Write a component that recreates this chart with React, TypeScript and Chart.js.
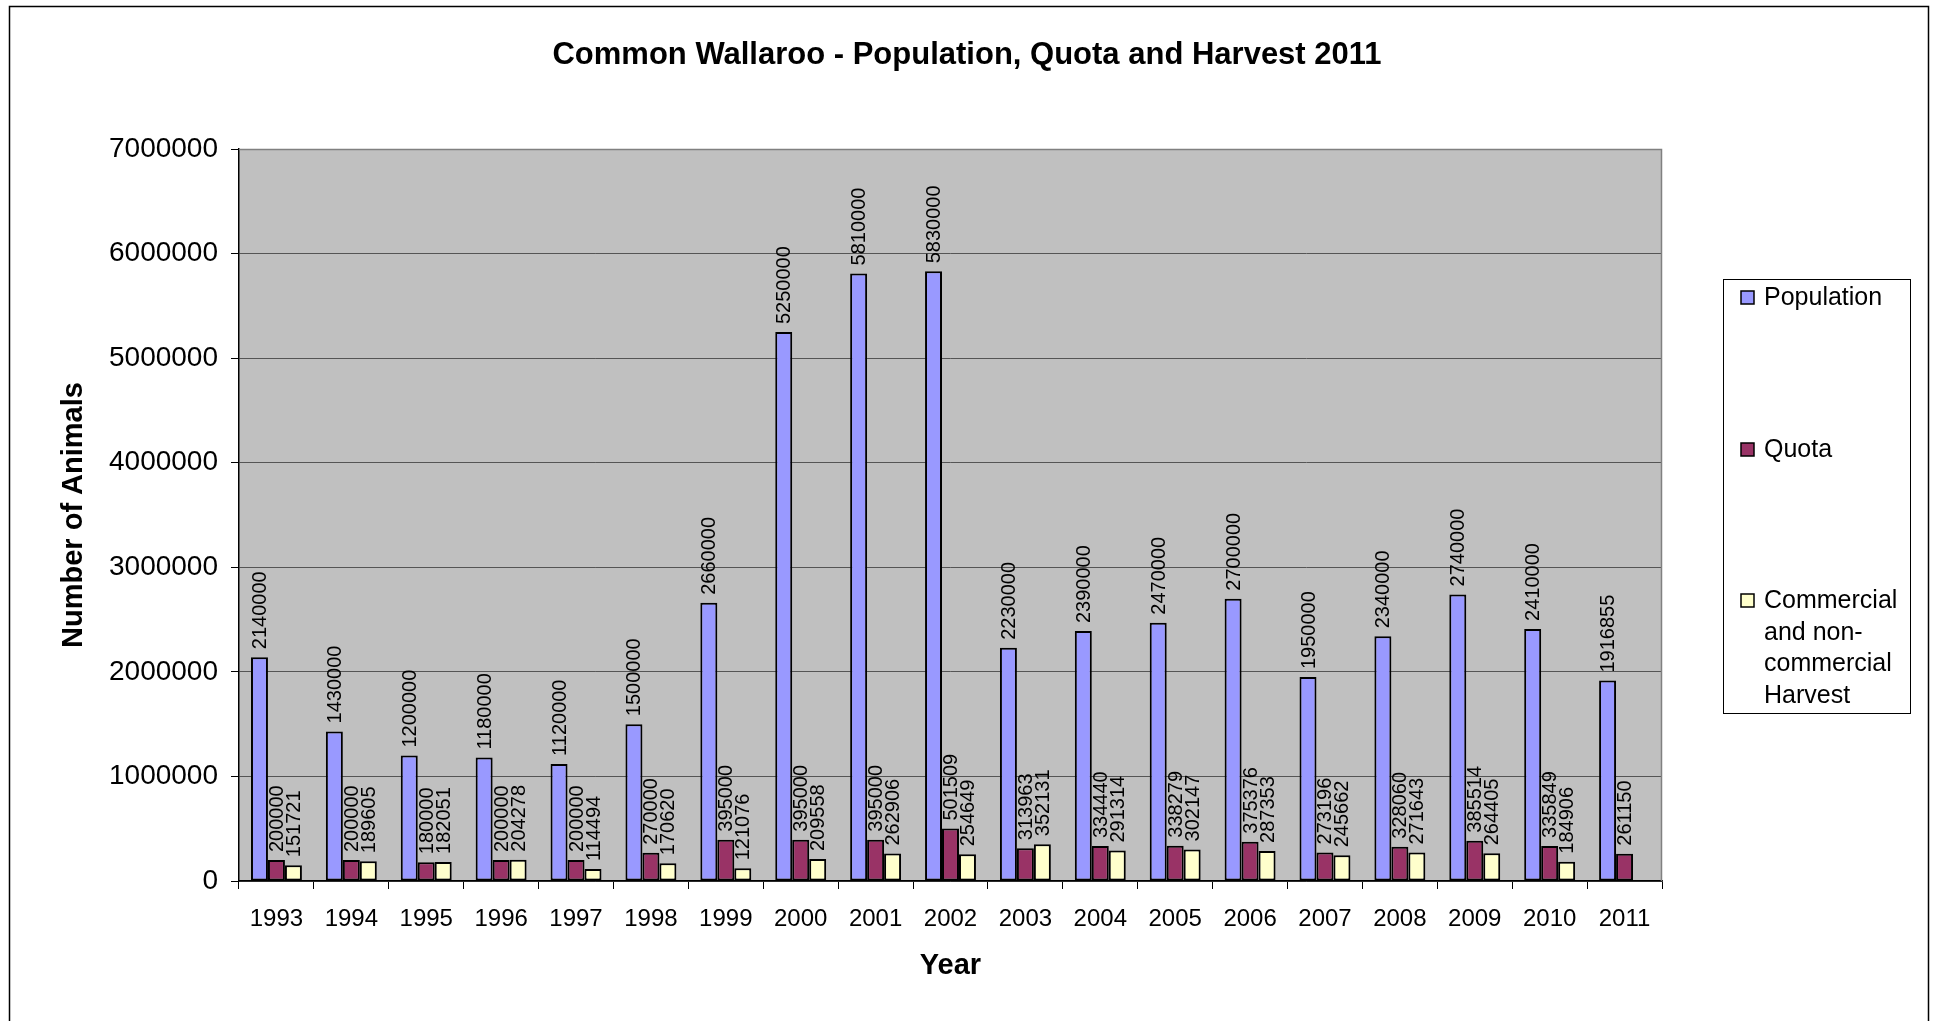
import React, { useEffect, useRef } from 'react';
import { Chart, registerables } from 'chart.js';

Chart.register(...registerables);

const YEARS = ['1993', '1994', '1995', '1996', '1997', '1998', '1999', '2000', '2001', '2002', '2003', '2004', '2005', '2006', '2007', '2008', '2009', '2010', '2011'];
const POPULATION = [2140000, 1430000, 1200000, 1180000, 1120000, 1500000, 2660000, 5250000, 5810000, 5830000, 2230000, 2390000, 2470000, 2700000, 1950000, 2340000, 2740000, 2410000, 1916855];
const QUOTA = [200000, 200000, 180000, 200000, 200000, 270000, 395000, 395000, 395000, 501509, 313963, 334440, 338279, 375376, 273196, 328060, 385514, 335849, 261150];
const HARVEST: (number | null)[] = [151721, 189605, 182051, 204278, 114494, 170620, 121076, 209558, 262906, 254649, 352131, 291314, 302147, 287353, 245662, 271643, 264405, 184906, null];
const SERIES_NAMES = ['Population', 'Quota', 'Commercial and non-commercial Harvest'];
const LEGEND_LINES = [['Population'], ['Quota'], ['Commercial', 'and non-', 'commercial', 'Harvest']];
const Y_MIN = 0;
const Y_MAX = 7000000;
const Y_STEP = 1000000;
const TITLE = 'Common Wallaroo - Population, Quota and Harvest 2011';
const X_TITLE = 'Year';
const Y_TITLE = 'Number of Animals';

const COLORS = ['#9999FF', '#993366', '#FFFFCC'];
const FONT = "'Liberation Sans', Arial, sans-serif";

const framePlugin = {
  id: 'framePlugin',
  beforeDraw(chart: any) {
    const { ctx, chartArea } = chart;
    ctx.save();
    ctx.fillStyle = '#ffffff';
    ctx.fillRect(0, 0, chart.width, chart.height);
    ctx.strokeStyle = '#000000';
    ctx.lineWidth = 1.5;
    ctx.strokeRect(9.5, 6.5, 1919, 1100);
    ctx.fillStyle = '#C0C0C0';
    ctx.fillRect(chartArea.left, chartArea.top, chartArea.right - chartArea.left, chartArea.bottom - chartArea.top);
    ctx.restore();
  },
  beforeDatasetsDraw(chart: any) {
    const { ctx, chartArea } = chart;
    ctx.save();
    ctx.strokeStyle = '#808080';
    ctx.lineWidth = 1.5;
    ctx.beginPath();
    ctx.moveTo(chartArea.left, chartArea.top + 0.5);
    ctx.lineTo(chartArea.right - 0.5, chartArea.top + 0.5);
    ctx.lineTo(chartArea.right - 0.5, chartArea.bottom);
    ctx.stroke();
    ctx.restore();
  },
};

const labelPlugin = {
  id: 'labelPlugin',
  afterDatasetsDraw(chart: any) {
    const { ctx } = chart;
    ctx.save();
    ctx.font = `20px ${FONT}`;
    ctx.fillStyle = '#000000';
    ctx.textAlign = 'left';
    ctx.textBaseline = 'middle';
    chart.data.datasets.forEach((ds: any, di: number) => {
      const meta = chart.getDatasetMeta(di);
      meta.data.forEach((bar: any, i: number) => {
        const v = ds.data[i];
        if (v === null || v === undefined) return;
        ctx.save();
        ctx.translate(bar.x + 1, bar.y - 8);
        ctx.rotate(-Math.PI / 2);
        ctx.fillText(String(v), 0, 0);
        ctx.restore();
      });
    });
    ctx.restore();
  },
};

const legendPlugin = {
  id: 'customLegend',
  afterDraw(chart: any) {
    const { ctx } = chart;
    const box = { left: 1723, top: 279, right: 1910, bottom: 713 };
    const firstLineY = [298, 450, 601];
    const lineGap = 31.7;
    ctx.save();
    ctx.strokeStyle = '#000000';
    ctx.lineWidth = 1;
    ctx.strokeRect(box.left + 0.5, box.top + 0.5, box.right - box.left, box.bottom - box.top);
    ctx.font = `25px ${FONT}`;
    ctx.fillStyle = '#000000';
    ctx.textAlign = 'left';
    ctx.textBaseline = 'middle';
    chart.data.datasets.forEach((ds: any, di: number) => {
      const y0 = firstLineY[di];
      ctx.fillStyle = ds.backgroundColor;
      ctx.fillRect(1741, y0 - 7, 13, 13);
      ctx.strokeStyle = '#000000';
      ctx.lineWidth = 1.5;
      ctx.strokeRect(1741, y0 - 7, 13, 13);
      ctx.fillStyle = '#000000';
      LEGEND_LINES[di].forEach((line, li) => {
        ctx.fillText(line, 1764, y0 + li * lineGap);
      });
    });
    ctx.restore();
  },
};

export default function App() {
  const canvasRef = useRef<HTMLCanvasElement | null>(null);

  useEffect(() => {
    if (!canvasRef.current) return;
    const chart = new Chart(canvasRef.current, {
      type: 'bar',
      data: {
        labels: YEARS,
        datasets: [
          { label: SERIES_NAMES[0], data: POPULATION, backgroundColor: COLORS[0] },
          { label: SERIES_NAMES[1], data: QUOTA, backgroundColor: COLORS[1] },
          { label: SERIES_NAMES[2], data: HARVEST as any, backgroundColor: COLORS[2] },
        ].map((d) => ({
          ...d,
          borderColor: '#000000',
          borderWidth: 2,
          borderSkipped: false,
          categoryPercentage: 0.68,
          barPercentage: 1,
        })),
      },
      options: {
        responsive: false,
        animation: false,
        devicePixelRatio: 1,
        layout: { padding: { left: 0, right: 0, top: 0, bottom: 30 } },
        plugins: {
          legend: { display: false },
          tooltip: { enabled: false },
          title: {
            display: true,
            text: TITLE,
            color: '#000000',
            font: { family: FONT, size: 31, weight: 'bold', lineHeight: 1.2 },
            padding: { top: 36.4, bottom: 75.4 },
          },
        },
        scales: {
          x: {
            grid: { display: true, drawOnChartArea: false, offset: true, tickLength: 8, color: '#000000', tickColor: '#000000' },
            border: { display: true, color: '#000000', width: 1.5 },
            ticks: { color: '#000000', font: { family: FONT, size: 24, lineHeight: 1.2 }, padding: 16, maxRotation: 0, autoSkip: false },
            title: { display: true, text: X_TITLE, color: '#000000', font: { family: FONT, size: 29, weight: 'bold', lineHeight: 1 }, padding: { top: 0, bottom: 10.5 } },
            afterFit: (scale: any) => { scale.height = 110; },
          },
          y: {
            min: Y_MIN,
            max: Y_MAX,
            grid: { color: '#555555', tickColor: '#000000', tickLength: 8, lineWidth: 1 },
            border: { display: true, color: '#000000', width: 1.5 },
            ticks: {
              stepSize: Y_STEP,
              color: '#000000',
              padding: 13,
              font: { family: FONT, size: 28 },
              callback: (v: any) => String(v),
            },
            title: { display: true, text: Y_TITLE, color: '#000000', font: { family: FONT, size: 29, weight: 'bold', lineHeight: 1 }, padding: { top: 59.5, bottom: 0 } },
            afterFit: (scale: any) => { scale.width = 239; },
          },
          legendSpace: {
            type: 'linear',
            position: 'right',
            display: true,
            min: Y_MIN,
            max: Y_MAX,
            grid: { display: false, drawOnChartArea: false, drawTicks: false },
            border: { display: false },
            ticks: { display: false },
            afterFit: (scale: any) => { scale.width = 272; },
          },
        },
      },
      plugins: [framePlugin, labelPlugin, legendPlugin],
    });
    return () => chart.destroy();
  }, []);

  return (
    <div style={{ position: 'absolute', left: 0, top: 0, width: 1934, height: 1021, overflow: 'hidden', background: '#fff' }}>
      <canvas ref={canvasRef} width={1934} height={1021} style={{ display: 'block', width: 1934, height: 1021 }} />
    </div>
  );
}
